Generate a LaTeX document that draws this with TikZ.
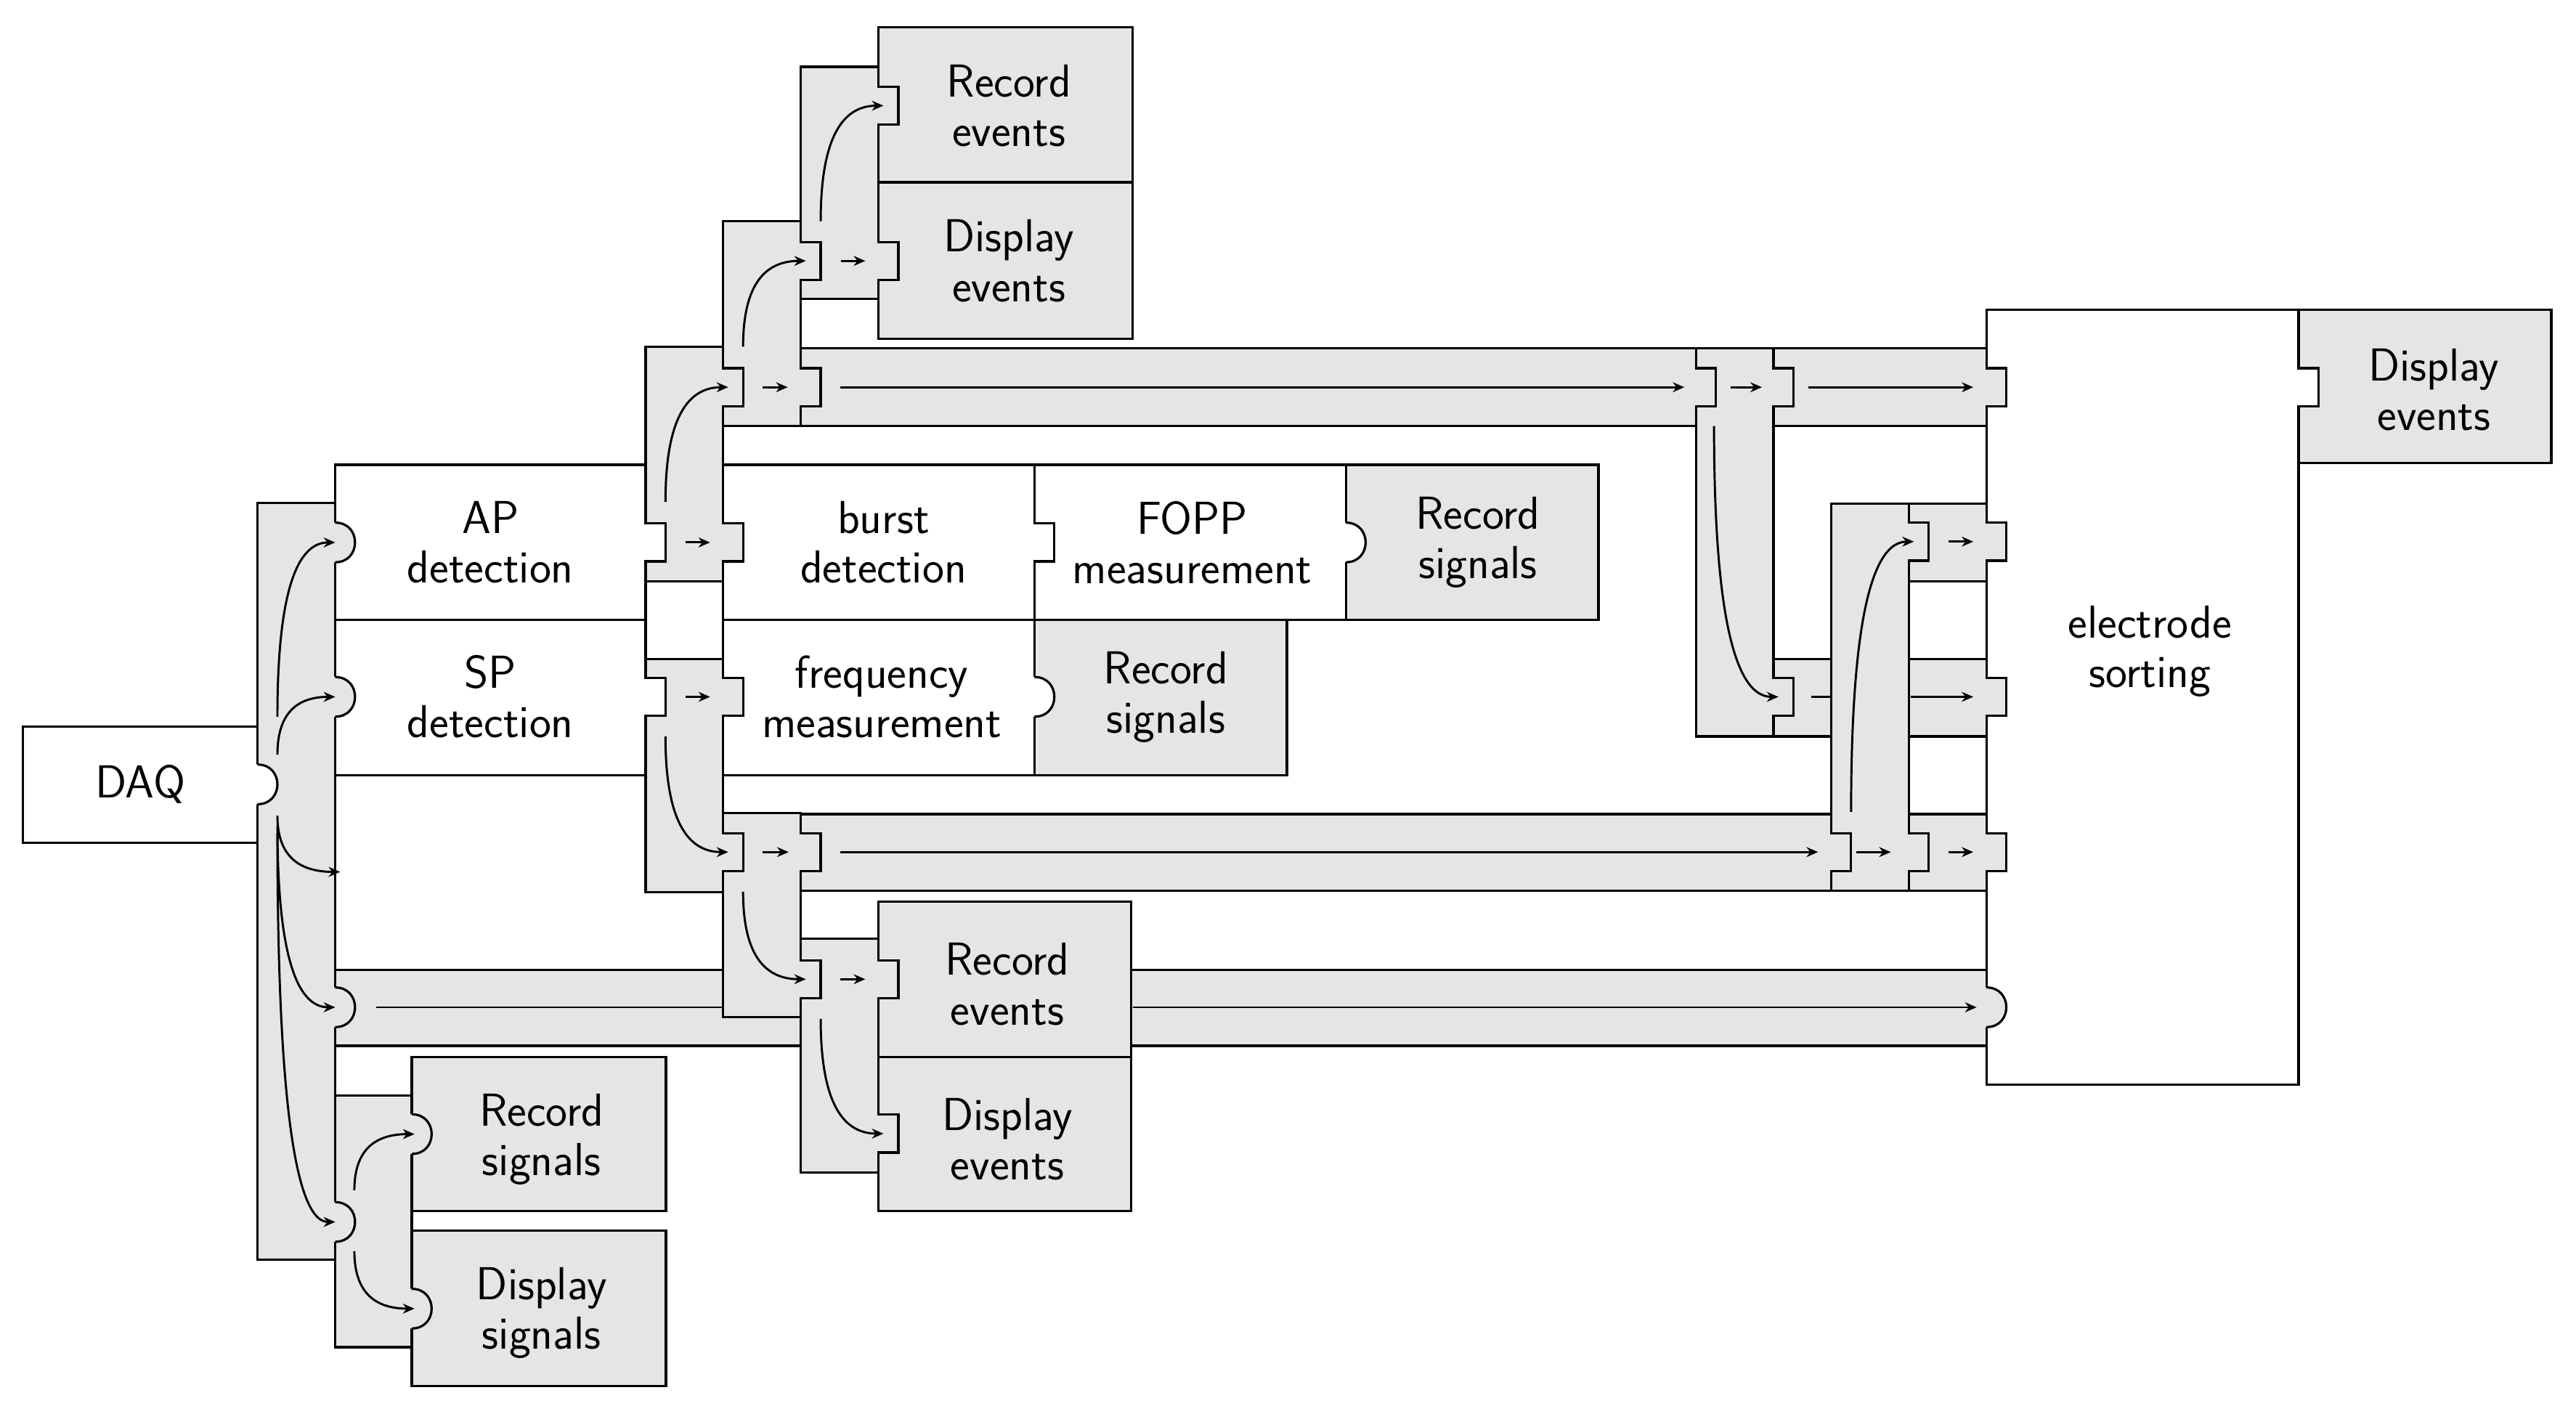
\documentclass[tikz,border=0pt]{standalone}
\usepackage{fontspec}
\usetikzlibrary{arrows.meta}
\definecolor{gfill}{HTML}{E5E5E5}
\tikzset{
  ln/.style={line width=1.4pt, line join=miter},
  gbox/.style={ln, fill=gfill, draw=black},
  wbox/.style={ln, fill=white, draw=black},
  arr/.style={line width=1.3pt, -{Stealth[length=7pt,width=6pt]}},
  txt/.style={align=center, font=\sffamily\fontsize{28}{30}\selectfont, inner sep=0pt}
}
\newcommand\tabr[3]{%
  \fill[#3] ({#1-1.6},{#2-11.5}) rectangle ({#1+12},{#2+11.5});
  \draw[ln,line cap=rect] (#1,{#2-11.5}) -- ({#1+12},{#2-11.5}) -- ({#1+12},{#2+11.5}) -- (#1,{#2+11.5});}
\newcommand\bumpr[3]{%
  \fill[#3] ({#1-1.6},{#2-12}) -- (#1,{#2-12}) .. controls ({#1+16},{#2-12}) and ({#1+16},{#2+12}) .. (#1,{#2+12}) -- ({#1-1.6},{#2+12}) -- cycle;
  \draw[ln] (#1,{#2-12}) .. controls ({#1+16},{#2-12}) and ({#1+16},{#2+12}) .. (#1,{#2+12});}
\newcommand\carr[4]{%
  \draw[arr] (#1,#2) .. controls ({#1},{#4+0.45*(#2-#4)}) and ({#1+0.2*(#3-#1)},{#4}) .. (#3,#4);}
\newcommand\sarr[3]{\draw[arr] (#1,#3) -- (#2,#3);}
\begin{document}
\begin{tikzpicture}[x=1pt,y=-1pt]
\useasboundingbox (0,0) rectangle (1560,856);
% buses and right segments
\draw[gbox] (203,587.5) rectangle (1203,633.3);
\draw[gbox] (485,211) rectangle (1203,258);
\draw[gbox] (485,493) rectangle (1109,539.4);
\draw[gbox] (1074,399) rectangle (1203,446);
\draw[gbox] (1156,305) rectangle (1203,352);
\draw[gbox] (1156,493) rectangle (1203,539.4);
% electrode sorting
\draw[gbox] (1392,187.5) rectangle (1545,280.5);
\draw[wbox] (1203,187.5) rectangle (1392,657);
% right columns
\draw[gbox] (1109,305) rectangle (1156,539.4);
\draw[gbox] (1027,211) rectangle (1074,446);
% left part
\draw[gbox] (156,304.7) rectangle (203,762.8);
\draw[gbox] (203,663.6) rectangle (249.4,815.8);
\draw[gbox] (249.4,640) rectangle (403.3,733.5);
\draw[gbox] (249.4,745.4) rectangle (403.3,839.3);
\draw[wbox] (203,281.5) rectangle (391,375.4);
\draw[wbox] (203,375.4) rectangle (391,469.4);
\draw[gbox] (391,210) rectangle (438,352);
\draw[gbox] (391,399) rectangle (438,540.3);
\draw[wbox] (438,281.5) rectangle (626.5,375.4);
\draw[wbox] (626.5,281.5) rectangle (815,375.4);
\draw[gbox] (815,281.5) rectangle (968,375.4);
\draw[wbox] (438,375.4) rectangle (626.5,469.4);
\draw[gbox] (626.5,375.4) rectangle (779.3,469.4);
\draw[gbox] (438,134) rectangle (485,258);
\draw[gbox] (438,492.5) rectangle (485,615.8);
\draw[gbox] (485,40.5) rectangle (532,181);
\draw[gbox] (485,568.6) rectangle (532,710);
\draw[gbox] (532,16.6) rectangle (686,110.4);
\draw[gbox] (532,110.4) rectangle (686,205);
\draw[gbox] (532,546) rectangle (685,640.3);
\draw[gbox] (532,640.3) rectangle (685,733.5);
\draw[wbox] (14,440) rectangle (156,510.3);
% rectangular tabs
\tabr{391}{328.5}{white}
\tabr{391}{422}{white}
\tabr{626.5}{328.5}{white}
\tabr{1392}{234.5}{white}
\tabr{438}{328.5}{gfill}
\tabr{438}{234.5}{gfill}
\tabr{485}{234.5}{gfill}
\tabr{485}{158}{gfill}
\tabr{532}{64}{gfill}
\tabr{532}{158}{gfill}
\tabr{438}{422}{gfill}
\tabr{438}{516}{gfill}
\tabr{485}{516}{gfill}
\tabr{485}{593}{gfill}
\tabr{532}{593}{gfill}
\tabr{532}{686.5}{gfill}
\tabr{1027}{234.5}{gfill}
\tabr{1074}{234.5}{gfill}
\tabr{1074}{422}{gfill}
\tabr{1109}{516}{gfill}
\tabr{1156}{328}{gfill}
\tabr{1156}{516}{gfill}
\tabr{1203}{234.5}{gfill}
\tabr{1203}{328}{gfill}
\tabr{1203}{422}{gfill}
\tabr{1203}{516}{gfill}
% round bumps
\bumpr{156}{475}{white}
\bumpr{815}{328.5}{white}
\bumpr{626.5}{422}{white}
\bumpr{203}{328.5}{gfill}
\bumpr{203}{422}{gfill}
\bumpr{203}{610}{gfill}
\bumpr{203}{740}{gfill}
\bumpr{249.4}{686.8}{gfill}
\bumpr{249.4}{792.5}{gfill}
\bumpr{1203}{610}{gfill}
% straight arrows
\draw[line width=1.3pt] (228,610) -- (438,610);
\sarr{686}{1197}{610}
\sarr{509}{1020}{234.5}
\sarr{1095}{1195}{234.5}
\sarr{509}{1101}{516}
\draw[line width=1.3pt] (1097,422) -- (1109,422);
\sarr{1157}{1195}{422}
\sarr{415}{430}{328.5}
\sarr{462}{477}{234.5}
\sarr{509.5}{524}{158}
\sarr{415}{430}{422}
\sarr{462}{477.6}{516}
\sarr{509}{524}{593}
\sarr{1048}{1067}{234.5}
\sarr{1124}{1145}{516}
\sarr{1180}{1195}{328}
\sarr{1180}{1195}{516}
% curved arrows
\carr{168}{434}{203}{328.5}
\carr{168}{457}{203}{422}
\carr{168}{494}{206}{528}
\carr{168}{500}{203}{610}
\carr{168}{505}{203}{740}
\carr{214.6}{720.8}{251}{686.8}
\carr{214.6}{757.7}{251}{792.5}
\carr{403}{304}{441}{234.5}
\carr{450}{210}{488}{158}
\carr{497}{134}{535}{64}
\carr{403}{446}{441}{516}
\carr{450}{540}{488}{593}
\carr{497}{617}{535}{686.5}
\carr{1038}{258}{1077}{422}
\carr{1121}{491.6}{1159}{328}
% texts
\node[txt] (daq) at (85,475) {DAQ};
\node[txt] (ap) at (297,328.5) {AP\\detection};
\node[txt] (sp) at (297,422) {SP\\detection};
\node[txt] (burst) at (535,328.5) {burst\\detection};
\node[txt] (fopp) at (722,328.5) {FOPP\\measurement};
\node[txt] (rs1) at (895,328.5) {Record\\signals};
\node[txt] (freq) at (534,422) {frequency\\measurement};
\node[txt] (rs2) at (706,422) {Record\\signals};
\node[txt] (re1) at (611,64) {Record\\events};
\node[txt] (de1) at (611,158) {Display\\events};
\node[txt] (re2) at (610,596) {Record\\events};
\node[txt] (de2) at (610,690) {Display\\events};
\node[txt] (rs3) at (328,690) {Record\\signals};
\node[txt] (ds) at (328,795) {Display\\signals};
\node[txt] (es) at (1302,394.5) {electrode\\sorting};
\node[txt] (de3) at (1474,236) {Display\\events};
\end{tikzpicture}
\end{document}
